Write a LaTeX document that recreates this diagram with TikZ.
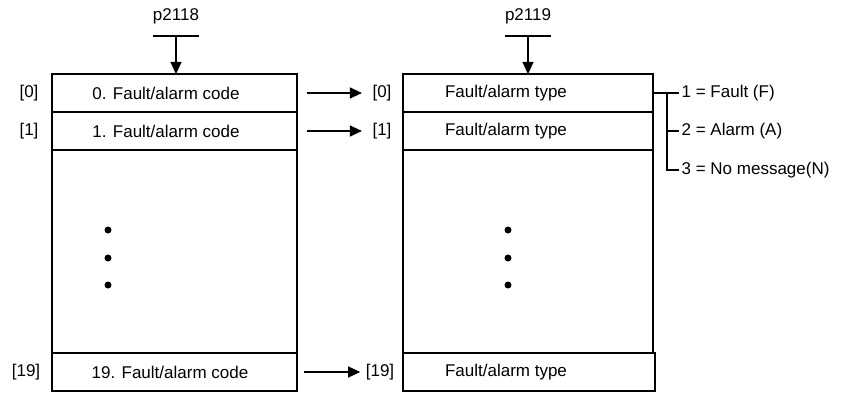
\documentclass[tikz,border=0pt]{standalone}
\usepackage{fontspec}
\setmainfont{Liberation Sans}
\usetikzlibrary{arrows.meta}
\begin{document}
\begin{tikzpicture}[x=1pt,y=-1pt,
  line width=1.3pt,
  txt/.style={font=\fontsize{17}{20}\selectfont, inner sep=0pt},
  rowbox/.style={draw, minimum height=38pt, inner sep=0pt, outer sep=0pt},
  arr/.style={-{Triangle[length=12pt,width=11pt]}},
  dot/.style={circle, fill, inner sep=0pt, minimum size=7pt}]
\useasboundingbox (0,0) rectangle (843,398);
% left table
\node[rowbox, minimum width=245pt] (l0) at (174.5,93) {};
\node[rowbox, minimum width=245pt] (l1) at (174.5,131) {};
\node[rowbox, minimum width=245pt, minimum height=203pt] (lb) at (174.5,251.5) {};
\node[rowbox, minimum width=245pt] (l19) at (174.5,372) {};
\node[txt] (lt0) at (166,93) {0. Fault/alarm code};
\node[txt] (lt1) at (166,131) {1. Fault/alarm code};
\node[txt] (lt19) at (170,372) {19. Fault/alarm code};
\node[txt] (li0) at (29,93) {[0]};
\node[txt] (li1) at (29,131) {[1]};
\node[txt] (li19) at (26,372) {[19]};
\node[dot] (ld1) at (108,230) {};
\node[dot] (ld2) at (108,258) {};
\node[dot] (ld3) at (108,285) {};
% right table
\node[rowbox, minimum width=250pt] (r0) at (528,93) {};
\node[rowbox, minimum width=250pt] (r1) at (528,131) {};
\node[rowbox, minimum width=250pt, minimum height=203pt] (rb) at (528,251.5) {};
\node[rowbox, minimum width=252pt] (r19) at (529,372) {};
\node[txt] (rt0) at (506,93) {Fault/alarm type};
\node[txt] (rt1) at (506,131) {Fault/alarm type};
\node[txt] (rt19) at (506,372) {Fault/alarm type};
\node[txt] (ri0) at (382,93) {[0]};
\node[txt] (ri1) at (382,131) {[1]};
\node[txt] (ri19) at (380,372) {[19]};
\node[dot] (rd1) at (508,230) {};
\node[dot] (rd2) at (508,258) {};
\node[dot] (rd3) at (508,285) {};
% parameters
\node[txt] (p1) at (176,16) {p2118};
\node[txt] (p2) at (528,16) {p2119};
\coordinate (p1a) at (153,36); \coordinate (p1b) at (199,36); \coordinate (p1c) at (176,36);
\coordinate (p2a) at (505,36); \coordinate (p2b) at (551,36); \coordinate (p2c) at (528,36);
\draw (p1a) -- (p1b);
\draw (p2a) -- (p2b);
\draw[arr] (p1c) -- (p1c |- l0.north);
\draw[arr] (p2c) -- (p2c |- r0.north);
% row arrows
\draw[arr] ([xshift=10pt]l0.east) -- ([xshift=-10pt]ri0.west);
\draw[arr] ([xshift=10pt]l1.east) -- ([xshift=-10pt]ri1.west);
\draw[arr] ([xshift=7pt]l19.east) -- ([xshift=-5pt]ri19.west);
% value list
\node[txt, anchor=west] (v1) at (681,93) {1 = Fault (F)};
\node[txt, anchor=west] (v2) at (681,131) {2 = Alarm (A)};
\node[txt, anchor=west] (v3) at (681,170) {3 = No message(N)};
\coordinate (vj) at (667,93);
\draw (r0.east) -- ([xshift=-2pt]v1.west);
\draw (vj) |- ([xshift=-2pt]v3.west);
\draw (vj |- v2.west) -- ([xshift=-2pt]v2.west);
\end{tikzpicture}
\end{document}
